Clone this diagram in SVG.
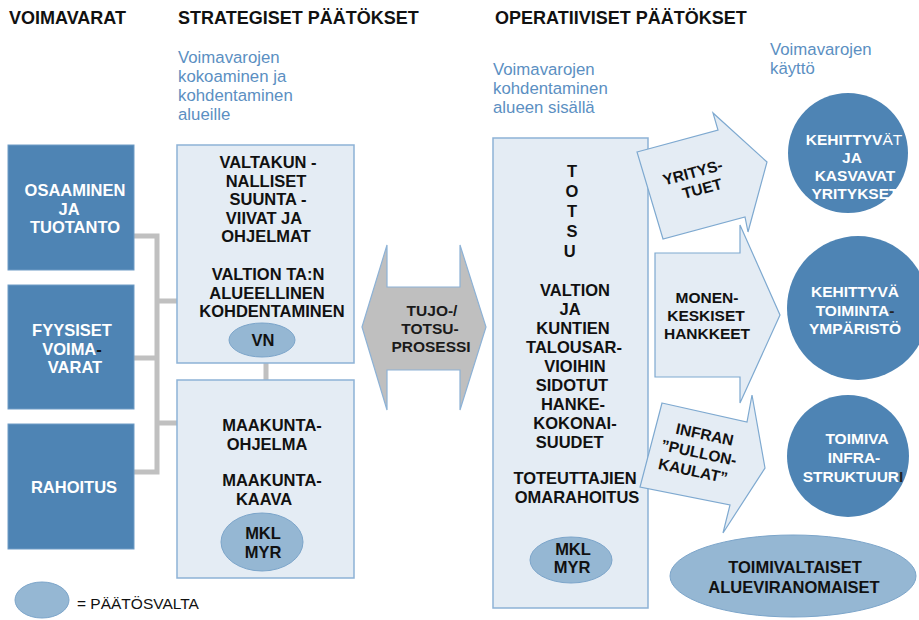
<svg xmlns="http://www.w3.org/2000/svg" width="919" height="620" viewBox="0 0 919 620">
<style>
text{font-family:"Liberation Sans",Arial,sans-serif}
.h{font-size:18px;font-weight:700;fill:#111}
.s{font-size:16.8px;fill:#5b8fc2}
.b{font-size:16.5px;font-weight:700;fill:#111;text-anchor:middle}
.w{font-size:16.5px;font-weight:700;fill:#fff;text-anchor:middle}
.cw{font-size:15.5px;font-weight:700;fill:#fff;text-anchor:middle}
.a{font-size:15.5px;font-weight:700;fill:#111;text-anchor:middle}
.res{fill:#4e84b4;stroke:#6f9cc6;stroke-width:1}
.pan{fill:#e4ecf4;stroke:#8db2d6;stroke-width:1.5}
.dec{fill:#95b7d3;stroke:#7ca5ca;stroke-width:1}
.arr{fill:#e4ecf4;stroke:#7ea9d0;stroke-width:1.2}
.con{stroke:#c0c0c0;stroke-width:5;fill:none}
</style>

<g id="headers">
<text class="h" x="9" y="24">VOIMAVARAT</text>
<text class="h" x="178" y="24">STRATEGISET PÄÄTÖKSET</text>
<text class="h" x="495" y="24">OPERATIIVISET PÄÄTÖKSET</text>
<text class="s"><tspan x="178" y="63">Voimavarojen</tspan><tspan x="178" y="82">kokoaminen ja</tspan><tspan x="178" y="101">kohdentaminen</tspan><tspan x="178" y="120">alueille</tspan></text>
<text class="s"><tspan x="493" y="75">Voimavarojen</tspan><tspan x="493" y="94">kohdentaminen</tspan><tspan x="493" y="113">alueen sisällä</tspan></text>
<text class="s"><tspan x="770" y="55">Voimavarojen</tspan><tspan x="770" y="74">käyttö</tspan></text>
</g>

<g id="connectors">
<path class="con" d="M134 236 H157 M134 358 H157 M134 472 H157 M157 233.5 V474.5 M157 301 H177 M157 423 H177 M266 363 V380"/>
</g>

<g id="osaaminen">
<rect class="res" x="8" y="145" width="126" height="125"/>
<text class="w"><tspan x="75" y="196">OSAAMINEN</tspan><tspan x="69" y="214.5">JA</tspan><tspan x="75" y="233">TUOTANTO</tspan></text>
</g>
<g id="fyysiset">
<rect class="res" x="8" y="285" width="126" height="124"/>
<text class="w"><tspan x="72" y="336">FYYSISET</tspan><tspan x="72" y="354.5">VOIMA<tspan style="fill:#111">-</tspan></tspan><tspan x="75" y="373">VARAT</tspan></text>
</g>
<g id="rahoitus">
<rect class="res" x="8" y="424" width="126" height="125"/>
<text class="w" x="74" y="493">RAHOITUS</text>
</g>

<g id="valtakunnalliset">
<rect class="pan" x="177" y="145" width="177" height="218"/>
<text class="b"><tspan x="268" y="168">VALTAKUN -</tspan><tspan x="266" y="186.5">NALLISET</tspan><tspan x="268" y="205">SUUNTA -</tspan><tspan x="264" y="223.5">VIIVAT JA</tspan><tspan x="266" y="242">OHJELMAT</tspan><tspan x="268" y="280">VALTION TA:N</tspan><tspan x="267" y="298.5">ALUEELLINEN</tspan><tspan x="272" y="317">KOHDENTAMINEN</tspan></text>
</g>
<g id="vn">
<ellipse class="dec" cx="262" cy="340" rx="33" ry="17"/>
<text class="b" x="263" y="346">VN</text>
</g>

<g id="maakunta">
<rect class="pan" x="177" y="380" width="177" height="198"/>
<text class="b"><tspan x="272" y="431">MAAKUNTA-</tspan><tspan x="267" y="449.5">OHJELMA</tspan><tspan x="272" y="486">MAAKUNTA-</tspan><tspan x="264" y="504.5">KAAVA</tspan></text>
</g>
<g id="mkl-myr-1">
<ellipse class="dec" cx="262" cy="542" rx="41" ry="29"/>
<text class="b"><tspan x="263" y="539">MKL</tspan><tspan x="263" y="558">MYR</tspan></text>
</g>

<g id="tujo">
<polygon points="362,327 387,245 387,287 460,287 460,245 486,327 460,410 460,370 387,370 387,410" fill="#bfbfbf" stroke="#8db2d6" stroke-width="1.2"/>
<text style="font-size:15.5px;font-weight:700;fill:#1a1a1a;text-anchor:middle"><tspan x="432" y="316">TUJO-/</tspan><tspan x="430" y="334">TOTSU-</tspan><tspan x="431" y="352">PROSESSI</tspan></text>
</g>

<g id="totsu">
<rect class="pan" x="493" y="138" width="155" height="470"/>
<text class="b"><tspan x="572" y="177">T</tspan><tspan x="572" y="196.5">O</tspan><tspan x="572" y="216.5">T</tspan><tspan x="572" y="236.5">S</tspan><tspan x="572" y="257">U</tspan>
<tspan x="575" y="296">VALTION</tspan><tspan x="570" y="315">JA</tspan><tspan x="573" y="334">KUNTIEN</tspan><tspan x="574" y="353">TALOUSAR-</tspan><tspan x="575" y="372">VIOIHIN</tspan><tspan x="572" y="391">SIDOTUT</tspan><tspan x="573" y="410">HANKE-</tspan><tspan x="575" y="429">KOKONAI-</tspan><tspan x="572" y="448">SUUDET</tspan>
<tspan x="575" y="484">TOTEUTTAJIEN</tspan><tspan x="577" y="503">OMARAHOITUS</tspan></text>
</g>
<g id="mkl-myr-2">
<ellipse class="dec" cx="571" cy="560" rx="41" ry="23"/>
<text class="b"><tspan x="573" y="554.5">MKL</tspan><tspan x="572" y="573">MYR</tspan></text>
</g>

<g id="yritystuet">
<polygon class="arr" points="637,152 718,130 713,113 767,162 748,232 745,217 663,239"/>
<g transform="translate(697,181) rotate(-15)">
<text class="a"><tspan x="-2" y="-4">YRITYS-</tspan><tspan x="3" y="14">TUET</tspan></text>
</g>
</g>

<g id="monenkeskiset">
<polygon class="arr" points="655,253 740,253 740,225 780,315 740,403 740,377 655,377"/>
<text class="a"><tspan x="707" y="303">MONEN-</tspan><tspan x="706" y="321">KESKISET</tspan><tspan x="707" y="339">HANKKEET</tspan></text>
</g>

<g id="infran">
<polygon class="arr" points="662,403 747,422 752,395 765,468 723,533 730,505 640,487"/>
<g transform="translate(699,452) rotate(12)">
<text class="a"><tspan x="2" y="-13">INFRAN</tspan><tspan x="0" y="6">”PULLON-</tspan><tspan x="-2" y="25">KAULAT”</tspan></text>
</g>
</g>

<g id="yritykset">
<circle cx="848" cy="153" r="60" fill="#4e84b4"/>
<text class="cw"><tspan x="854" y="145">KEHITTYV<tspan style="font-weight:400">ÄT</tspan></tspan><tspan x="852" y="163">JA</tspan><tspan x="855" y="181">KASVAVAT</tspan><tspan x="855" y="199">YRITYKSET</tspan></text>
</g>
<g id="toimintaymparisto">
<ellipse cx="858" cy="308" rx="71" ry="72" fill="#4e84b4"/>
<text class="cw"><tspan x="855" y="297">KEHITTYVÄ</tspan><tspan x="855" y="315.5">TOIMINTA<tspan style="fill:#222">-</tspan></tspan><tspan x="855" y="334">YMPÄRISTÖ</tspan></text>
</g>
<g id="infrastruktuuri">
<circle cx="848" cy="456" r="61" fill="#4e84b4"/>
<text class="cw"><tspan x="857" y="444">TOIMIVA</tspan><tspan x="854" y="463">INFRA-</tspan><tspan x="853" y="482">STRUKTUUR<tspan style="fill:#222">I</tspan></tspan></text>
</g>

<g id="alueviranomaiset">
<ellipse class="dec" cx="793" cy="576" rx="123" ry="41"/>
<text class="b"><tspan x="795" y="573">TOIMIVALTAISET</tspan><tspan x="794" y="593">ALUEVIRANOMAISET</tspan></text>
</g>

<g id="legend">
<ellipse class="dec" cx="42" cy="600" rx="27" ry="18"/>
<text x="77" y="609" style="font-size:15.5px;fill:#111">= PÄÄTÖSVALTA</text>
</g>
</svg>
